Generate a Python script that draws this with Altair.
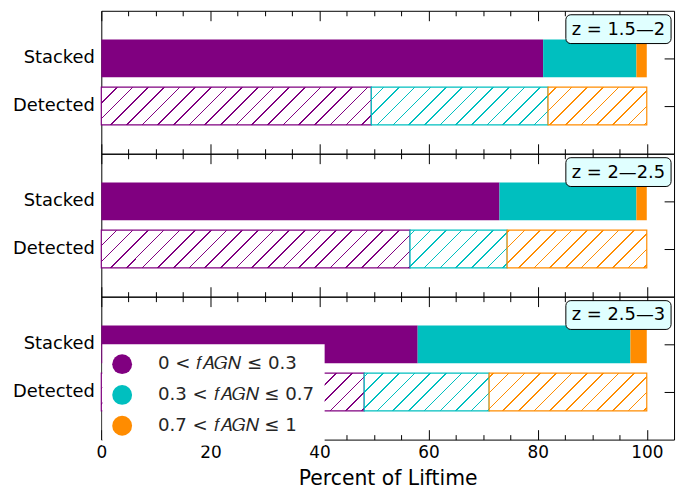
import math
import altair as alt

# ---- data ----
categories = ["0 < 𝑓𝐴𝐺𝑁 ≤ 0.3", "0.3 < 𝑓𝐴𝐺𝑁 ≤ 0.7", "0.7 < 𝑓𝐴𝐺𝑁 ≤ 1"]
colors = ["#800080", "#00bfbf", "#ff8c00"]
panel_labels = ["z = 1.5—2", "z = 2—2.5", "z = 2.5—3"]
row_labels = ["Stacked", "Detected"]
stacked_vals = [[81.0, 17.1, 1.9], [73.0, 25.1, 1.9], [58.0, 39.0, 3.0]]
detected_vals = [[49.5, 32.4, 18.1], [56.6, 17.8, 25.6], [48.2, 22.9, 28.9]]
major_ticks = [0, 20, 40, 60, 80, 100]
minor_ticks = list(range(0, 101, 5))
x_domain = [0, 105]

# ---- layout / style ----
PLOT_W = 577
PANEL_H = 144
PX = PLOT_W / (x_domain[1] - x_domain[0])
BAR_H = 38.0
HATCH_P = 15.8   # horizontal period of hatch lines (px)
HATCH_K = 1.0    # 45 degree lines
HATCH_B = 1.6    # horizontal thickness of a hatch line (px)


def hatch_fill(x0, x1, color):
    W = (x1 - x0) * PX
    X0 = x0 * PX
    H = BAR_H
    L = W + HATCH_K * H
    c = L / (W * W + HATCH_K * HATCH_K * H * H)
    stops = [{"offset": 0, "color": "white"}]
    last = 0.0
    m0 = math.ceil((X0 - HATCH_B) / HATCH_P)
    m1 = math.floor((X0 + L + HATCH_B) / HATCH_P)
    hw = HATCH_B / 2 / L
    for m in range(m0, m1 + 1):
        pc = (m * HATCH_P - X0) / L
        lo = max(last, max(0.0, pc - hw))
        hi = max(lo, min(1.0, pc + hw))
        if hi <= 0 or lo >= 1:
            continue
        stops += [{"offset": lo, "color": "white"}, {"offset": lo, "color": color},
                  {"offset": hi, "color": color}, {"offset": hi, "color": "white"}]
        last = hi
    stops.append({"offset": 1, "color": "white"})
    return {"gradient": "linear", "x1": 0, "y1": 0, "x2": c * W, "y2": c * HATCH_K * H,
            "stops": stops}


xscale = alt.Scale(domain=x_domain, nice=False, zero=False)
yscale = alt.Scale(domain=row_labels, paddingInner=0.208, paddingOuter=0.604)
fill_scale = alt.Scale(domain=categories, range=colors)
tick_cond = {"condition": {"test": "datum.value % 20 === 0", "value": 10}, "value": 5}

legend = alt.Legend(orient="none", legendX=1, legendY=336, title=None,
                    symbolType="circle", symbolSize=400, symbolStrokeWidth=0,
                    labelFontSize=18.3, labelColor="#262626", labelOffset=26,
                    rowPadding=11, padding=10, fillColor="white", labelLimit=400)

panels = []
for i, plabel in enumerate(panel_labels):
    solid_recs, hatch_recs = [], []
    s = 0.0
    for cat, v in zip(categories, stacked_vals[i]):
        solid_recs.append({"row": "Stacked", "cat": cat, "start": s, "end": s + v})
        s += v
    s = 0.0
    for cat, col, v in zip(categories, colors, detected_vals[i]):
        hatch_recs.append({"row": "Detected", "cat": cat, "start": s, "end": s + v,
                           "grad": hatch_fill(s, s + v, col)})
        s += v

    solid = alt.Chart(alt.Data(values=solid_recs)).mark_bar().encode(
        x=alt.X("start:Q", scale=xscale,
                axis=alt.Axis(orient="bottom", offset=-PANEL_H, values=minor_ticks,
                              labels=False, domain=False, grid=False, title=None,
                              tickSize=tick_cond, tickColor="black", tickWidth=1)),
        x2="end:Q",
        y=alt.Y("row:N", scale=yscale,
                axis=alt.Axis(orient="right", offset=-PLOT_W, labels=False, domain=False,
                              grid=False, title=None, tickSize=10, tickColor="black",
                              tickWidth=1)),
        fill=alt.Fill("cat:N", scale=fill_scale, legend=legend),
    )

    hatched = alt.Chart(alt.Data(values=hatch_recs)).mark_bar(strokeWidth=1.2).encode(
        x=alt.X("start:Q", scale=xscale,
                axis=alt.Axis(orient="top", offset=-PANEL_H, values=minor_ticks,
                              labels=False, domain=False, grid=False, title=None,
                              tickSize=tick_cond, tickColor="black", tickWidth=1)),
        x2="end:Q",
        y=alt.Y("row:N", scale=yscale,
                axis=alt.Axis(orient="left", offset=-PLOT_W, labels=False, domain=False,
                              grid=False, title=None, tickSize=10, tickColor="black",
                              tickWidth=1)),
        fill=alt.Fill("grad:N", scale=None),
        stroke=alt.Stroke("cat:N", scale=fill_scale, legend=None),
    )

    if i == len(panel_labels) - 1:
        xaxis = alt.Axis(orient="bottom", values=major_ticks, ticks=False, tickSize=0,
                         domain=False, grid=False, labelFontSize=17, labelPadding=5,
                         labelFlush=False, labelColor="black",
                         title="Percent of Liftime", titleFontSize=20.5,
                         titleFontWeight="normal", titleColor="black", titlePadding=8)
    else:
        xaxis = None
    labels_layer = alt.Chart(alt.Data(values=solid_recs)).mark_bar(opacity=0).encode(
        x=alt.X("start:Q", scale=xscale, axis=xaxis),
        x2="end:Q",
        y=alt.Y("row:N", scale=yscale,
                axis=alt.Axis(orient="left", ticks=False, tickSize=0, domain=False,
                              grid=False, labelFontSize=18, labelPadding=7,
                              labelColor="black", title=None)),
    )

    ann = alt.Chart(alt.Data(values=[{"label": plabel}]))
    box = ann.mark_rect(cornerRadius=5, fill="#e0ffff", stroke="black", strokeWidth=1).encode(
        x=alt.value(468), x2=alt.value(574), y=alt.value(4), y2=alt.value(33))
    txt = ann.mark_text(fontSize=18, color="black", align="center", baseline="middle").encode(
        x=alt.value(521), y=alt.value(19), text="label:N")

    panel = alt.layer(solid, hatched, labels_layer, box, txt).resolve_axis(
        x="independent", y="independent").properties(width=PLOT_W, height=PANEL_H)
    panels.append(panel)

chart = alt.vconcat(*panels, spacing=0, bounds="flush").resolve_scale(
    x="shared", fill="shared", stroke="shared"
).properties(
    padding={"left": 3, "top": 0, "right": 5, "bottom": 5}
).configure(font="DejaVu Sans").configure_view(stroke="black", strokeWidth=1)

chart.save("out.html", embed_options={"renderer": "svg", "actions": False})
